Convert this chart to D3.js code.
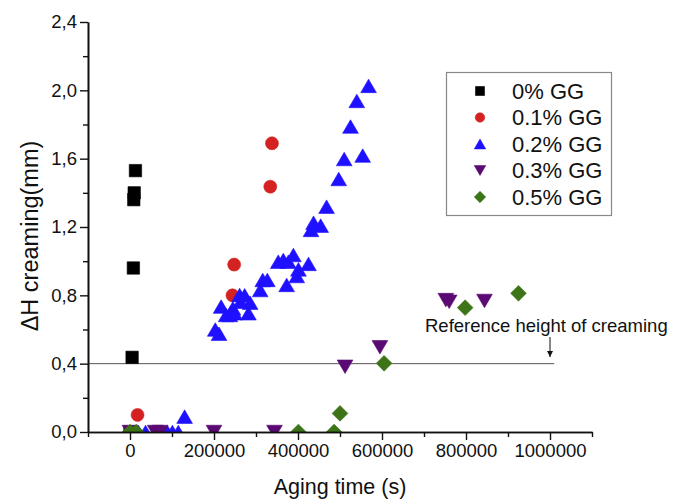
<!DOCTYPE html>
<html>
<head>
<meta charset="utf-8">
<script src="https://cdn.jsdelivr.net/npm/d3@7"></script>
<style>
  html, body { margin: 0; padding: 0; background: #fff; }
  svg { display: block; font-family: "Liberation Sans", Arial, sans-serif; }
</style>
</head>
<body>
<svg id="chart" width="676" height="499"></svg>
<script>
// Creaming height versus aging time for emulsions with different guar gum (GG) content
const seriesNames = ["0% GG", "0.1% GG", "0.2% GG", "0.3% GG", "0.5% GG"];
const seriesColors = ["#000000", "#d42222", "#1f10ff", "#5a0a72", "#3c7417"];
const seriesShapes = ["square", "circle", "triangleUp", "triangleDown", "diamond"];

// Aging time (s) and ΔH creaming (mm) per series
const gg0Time   = [0, 5000, 8000, 9000, 10000, 13000];
const gg0Height = [0, 0.437, 0.96, 1.36, 1.40, 1.53];

const gg01Time   = [0, 18000, 244000, 248000, 334000, 338000];
const gg01Height = [0, 0.10, 0.80, 0.98, 1.436, 1.69];

const gg02Time = [6000, 20000, 37000, 67000, 89000, 101000, 115000, 130000,
  203000, 212000, 217000, 229000, 238000, 240000, 245000, 249000, 261000,
  263000, 273000, 282000, 286000, 310000, 316000, 327000, 353000, 365000,
  373000, 377000, 389000, 397000, 401000, 425000, 431000, 437000, 454000,
  468000, 497000, 510000, 525000, 540000, 554000, 568000];
const gg02Height = [0, 0, 0, 0, 0, 0, 0, 0.09,
  0.60, 0.575, 0.734, 0.685, 0.685, 0.70, 0.724, 0.695, 0.802,
  0.763, 0.80, 0.695, 0.757, 0.831, 0.89, 0.89, 0.997, 1.007,
  0.861, 0.997, 1.036, 0.913, 0.952, 0.984, 1.183, 1.225, 1.208,
  1.319, 1.481, 1.598, 1.788, 1.938, 1.618, 2.026];

const gg03Time   = [0, 60000, 72000, 200000, 344000, 512000, 595000, 752000, 760000, 844000];
const gg03Height = [0, 0, 0, 0, 0, 0.382, 0.496, 0.772, 0.762, 0.767];

const gg05Time   = [0, 15000, 401000, 486000, 500000, 605000, 798000, 925000];
const gg05Height = [0, 0, 0, 0, 0.109, 0.402, 0.728, 0.812];

const seriesTimes = [gg0Time, gg01Time, gg02Time, gg03Time, gg05Time];
const seriesHeights = [gg0Height, gg01Height, gg02Height, gg03Height, gg05Height];

// Axis ticks
const xMajorTicks = [0, 200000, 400000, 600000, 800000, 1000000];
const xMinorTicks = [-100000, 100000, 300000, 500000, 700000, 900000, 1100000];
const yMajorTicks = [0, 0.4, 0.8, 1.2, 1.6, 2.0, 2.4];
const yMinorTicks = [0.2, 0.6, 1.0, 1.4, 1.8, 2.2];

// Reference level and annotation
const referenceHeight = 0.4;
const referenceEnd = 1010000;
const referenceLabel = "Reference height of creaming";
const arrowTime = 1000000;

const svg = d3.select("#chart");
const margin = { left: 88, top: 22, right: 84, bottom: 67 };
const W = 676, H = 499;

const x = d3.scaleLinear().domain([-100000, 1100000]).range([margin.left, W - margin.right]);
const y = d3.scaleLinear().domain([0, 2.4]).range([H - margin.bottom, margin.top]);

const commaFmt = v => d3.format(".1f")(v).replace(".", ",");

// Marker paths, centred on their bounding boxes
function markerPath(shape, s) {
  const p = d3.path();
  if (shape === "square") {
    const h = s * 0.45;
    p.rect(-h, -h, 2 * h, 2 * h);
  } else if (shape === "circle") {
    p.arc(0, 0, s * 0.47, 0, 2 * Math.PI);
  } else if (shape === "triangleUp") {
    const w = s * 0.57, h = s * 0.49;
    p.moveTo(0, -h); p.lineTo(w, h); p.lineTo(-w, h); p.closePath();
  } else if (shape === "triangleDown") {
    const w = s * 0.57, h = s * 0.49;
    p.moveTo(-w, -h); p.lineTo(w, -h); p.lineTo(0, h); p.closePath();
  } else if (shape === "diamond") {
    const h = s * 0.57;
    p.moveTo(0, -h); p.lineTo(h, 0); p.lineTo(0, h); p.lineTo(-h, 0); p.closePath();
  }
  return p.toString();
}

// Plot-area clip so markers at zero are cut by the axis
svg.append("defs").append("clipPath").attr("id", "plotClip")
  .append("rect")
  .attr("x", margin.left).attr("y", 0)
  .attr("width", W - margin.left - margin.right)
  .attr("height", H - margin.bottom);

// Reference line
svg.append("line")
  .attr("x1", x.range()[0]).attr("x2", x(referenceEnd))
  .attr("y1", y(referenceHeight)).attr("y2", y(referenceHeight))
  .attr("stroke", "#555").attr("stroke-width", 1);

// Data markers
const markerSize = 13.8;
const markers = svg.append("g").attr("clip-path", "url(#plotClip)");
seriesNames.forEach((name, i) => {
  const pts = seriesTimes[i].map((t, j) => [t, seriesHeights[i][j]]);
  markers.append("g").selectAll("path").data(pts).join("path")
    .attr("transform", d => `translate(${x(d[0])},${y(d[1])})`)
    .attr("d", markerPath(seriesShapes[i], markerSize))
    .attr("fill", seriesColors[i])
    .attr("stroke", seriesColors[i])
    .attr("stroke-width", 0.6);
});

// Axes
function styleAxis(g) {
  g.selectAll(".domain").attr("stroke", "#111").attr("stroke-width", 1.6);
  g.selectAll(".tick line").attr("stroke", "#111").attr("stroke-width", 1.4);
  g.selectAll(".tick text").attr("fill", "#111").style("font-size", "18.5px")
    .style("font-family", '"Liberation Sans", Arial, sans-serif');
}

const xAxisY = y(0);
svg.append("g").attr("transform", `translate(0,${xAxisY})`)
  .call(d3.axisBottom(x).tickValues(xMinorTicks).tickSize(5).tickFormat("").tickSizeOuter(0))
  .call(styleAxis);
svg.append("g").attr("transform", `translate(0,${xAxisY})`)
  .call(d3.axisBottom(x).tickValues(xMajorTicks).tickSize(8).tickPadding(4).tickFormat(d3.format("d")).tickSizeOuter(0))
  .call(styleAxis);

svg.append("g").attr("transform", `translate(${margin.left},0)`)
  .call(d3.axisLeft(y).tickValues(yMinorTicks).tickSize(5).tickFormat("").tickSizeOuter(0))
  .call(styleAxis);
svg.append("g").attr("transform", `translate(${margin.left},0)`)
  .call(d3.axisLeft(y).tickValues(yMajorTicks).tickSize(8).tickPadding(3).tickFormat(commaFmt).tickSizeOuter(0))
  .call(styleAxis);

// Axis titles
svg.append("text")
  .attr("x", (x.range()[0] + x.range()[1]) / 2).attr("y", 494)
  .attr("text-anchor", "middle")
  .style("font-size", "21.5px").attr("fill", "#111")
  .text("Aging time (s)");

svg.append("text")
  .attr("transform", `translate(38,236) rotate(-90)`)
  .attr("text-anchor", "middle")
  .style("font-size", "23.5px").attr("fill", "#111")
  .text("ΔH creaming(mm)");

// Annotation with arrow
svg.append("text")
  .attr("x", 425).attr("y", 332)
  .style("font-size", "18.5px").attr("fill", "#111")
  .text(referenceLabel);

svg.append("defs").append("marker")
  .attr("id", "arrowHead").attr("viewBox", "0 0 10 10")
  .attr("refX", 10).attr("refY", 5)
  .attr("markerWidth", 6).attr("markerHeight", 8)
  .attr("markerUnits", "userSpaceOnUse")
  .attr("orient", "auto")
  .append("path").attr("d", "M0,0L10,5L0,10Z").attr("fill", "#111");

svg.append("line")
  .attr("x1", x(arrowTime)).attr("x2", x(arrowTime))
  .attr("y1", 337).attr("y2", 357)
  .attr("stroke", "#111").attr("stroke-width", 1)
  .attr("marker-end", "url(#arrowHead)");

// Legend
const legend = svg.append("g");
legend.append("rect")
  .attr("x", 446.5).attr("y", 72.5).attr("width", 165).attr("height", 143)
  .attr("fill", "#fff").attr("stroke", "#888").attr("stroke-width", 1.2);
seriesNames.forEach((name, i) => {
  const cy = 91 + i * 26.5;
  legend.append("path")
    .attr("transform", `translate(480,${cy})`)
    .attr("d", markerPath(seriesShapes[i], 10))
    .attr("fill", seriesColors[i]).attr("stroke", seriesColors[i]).attr("stroke-width", 0.6);
  legend.append("text")
    .attr("x", 512).attr("y", cy).attr("dy", "0.36em")
    .style("font-size", "22px").attr("fill", "#111")
    .text(name);
});
</script>
</body>
</html>
